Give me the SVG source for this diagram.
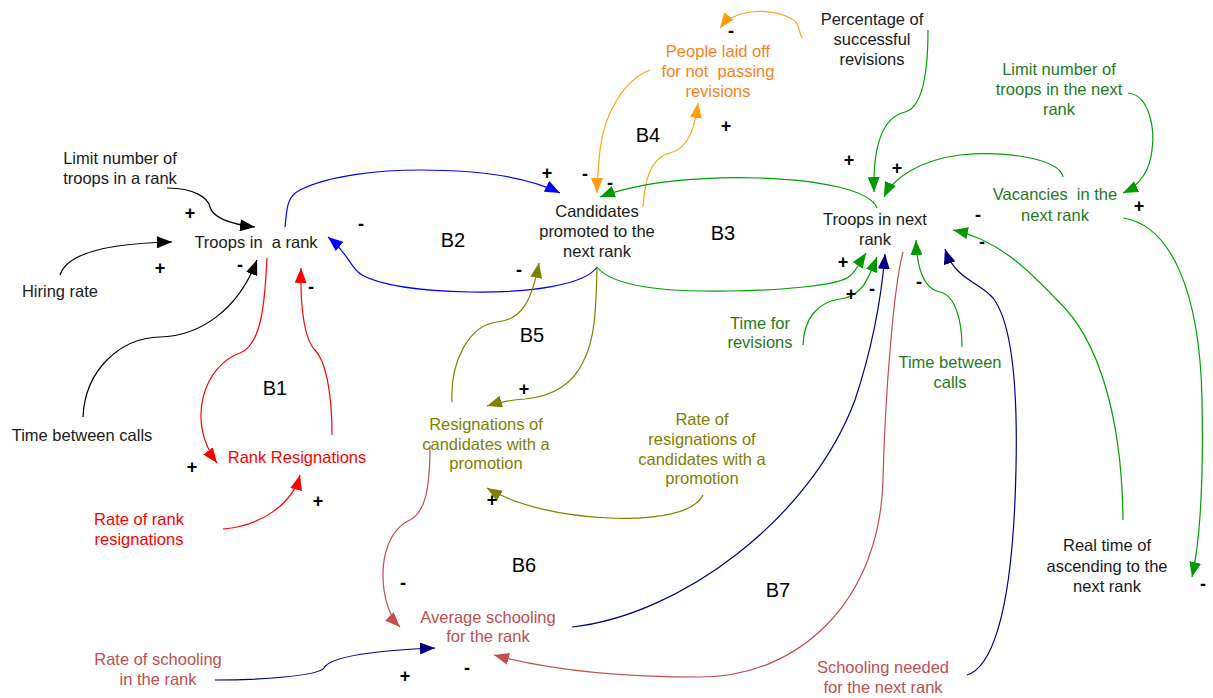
<svg xmlns="http://www.w3.org/2000/svg" width="1213" height="698" viewBox="0 0 1213 698">
<style>
text{font-family:"Liberation Sans",Arial,sans-serif;font-size:16.5px;text-anchor:middle}
.blk{fill:#1a1a1a}.red{fill:#ff0000}.org{fill:#f7821e}.grn{fill:#1f7a1f}.olv{fill:#808000}.ird{fill:#c0504d}
.loop{font-size:20px;fill:#000}
.sg{font-weight:bold;font-size:18px;fill:#000;dominant-baseline:central}
path.c{fill:none;stroke-width:1.2}
.kb{stroke:#000;marker-end:url(#ab)}.kr{stroke:#ff0000;marker-end:url(#ar)}.ku{stroke:#0000ff;marker-end:url(#au)}
.ko{stroke:#ffa31a;marker-end:url(#ao)}.kg{stroke:#00a000;marker-end:url(#ag)}.kl{stroke:#808000;marker-end:url(#al)}
.kn{stroke:#000080;marker-end:url(#an)}.ki{stroke:#c0504d;marker-end:url(#ai)}
</style>
<defs>
<marker id="ab" viewBox="0 0 15 12" refX="15" refY="6" markerWidth="15" markerHeight="12" markerUnits="userSpaceOnUse" orient="auto"><path d="M0,0L15,6L0,12z" fill="#000"/></marker>
<marker id="ar" viewBox="0 0 15 12" refX="15" refY="6" markerWidth="15" markerHeight="12" markerUnits="userSpaceOnUse" orient="auto"><path d="M0,0L15,6L0,12z" fill="#ff0000"/></marker>
<marker id="au" viewBox="0 0 15 12" refX="15" refY="6" markerWidth="15" markerHeight="12" markerUnits="userSpaceOnUse" orient="auto"><path d="M0,0L15,6L0,12z" fill="#0000ff"/></marker>
<marker id="ao" viewBox="0 0 15 12" refX="15" refY="6" markerWidth="15" markerHeight="12" markerUnits="userSpaceOnUse" orient="auto"><path d="M0,0L15,6L0,12z" fill="#ff9d0a"/></marker>
<marker id="ag" viewBox="0 0 15 12" refX="15" refY="6" markerWidth="15" markerHeight="12" markerUnits="userSpaceOnUse" orient="auto"><path d="M0,0L15,6L0,12z" fill="#009900"/></marker>
<marker id="al" viewBox="0 0 15 12" refX="15" refY="6" markerWidth="15" markerHeight="12" markerUnits="userSpaceOnUse" orient="auto"><path d="M0,0L15,6L0,12z" fill="#808000"/></marker>
<marker id="an" viewBox="0 0 15 12" refX="15" refY="6" markerWidth="15" markerHeight="12" markerUnits="userSpaceOnUse" orient="auto"><path d="M0,0L15,6L0,12z" fill="#000080"/></marker>
<marker id="ai" viewBox="0 0 15 12" refX="15" refY="6" markerWidth="15" markerHeight="12" markerUnits="userSpaceOnUse" orient="auto"><path d="M0,0L15,6L0,12z" fill="#c0504d"/></marker>
</defs>
<rect width="1213" height="698" fill="#fff"/>

<g id="connectors">
<path class="c kb" d="M167,188 C195,188 208,198 210,207 C213,218 230,224 255,227"/>
<path class="c kb" d="M60,275 C68,250 120,243 172,242"/>
<path class="c kb" d="M83,417 C85,370 120,338 160,337 C200,336 238,310 257,260"/>
<path class="c kr" d="M267,258 C265,300 262,345 240,353 C205,365 185,420 217,463"/>
<path class="c kr" d="M332,435 C332,390 325,360 315,350 C305,340 300,310 301,268"/>
<path class="c kr" d="M223,529 C260,526 292,505 300,475"/>
<path class="c ku" d="M285,227 C287,210 286,197 300,190 C330,175 380,170 420,170 C480,170 530,178 560,193"/>
<path class="c ku" d="M597,267 C585,285 530,293 470,292 C420,291 380,285 362,275 C350,268 350,255 328,237"/>
<path class="c ko" d="M643,207 C645,180 650,158 670,153 C690,148 695,125 698,103"/>
<path class="c ko" d="M650,70 C625,80 605,110 600,150 C598,170 597,180 597,193"/>
<path class="c ko" d="M802,38 C798,30 800,22 790,18 C770,8 735,8 720,28"/>
<path class="c kg" d="M877,208 C870,190 820,180 760,178 C700,176 640,182 600,197"/>
<path class="c kg" d="M597,267 C615,290 680,292 730,291 C790,290 840,285 850,276 C857,270 860,262 866,253"/>
<path class="c kg" d="M928,30 C928,80 920,108 905,112 C880,118 873,150 874,192"/>
<path class="c kg" d="M1063,177 C1060,160 1010,150 960,155 C920,160 893,178 884,197"/>
<path class="c kg" d="M1128,93 C1150,95 1155,130 1152,150 C1150,170 1140,185 1123,193"/>
<path class="c kg" d="M1123,218 C1170,225 1200,290 1202,400 C1204,500 1198,550 1192,577"/>
<path class="c kg" d="M1123,520 C1122,420 1100,340 1057,300 C1030,272 1000,240 953,230"/>
<path class="c kg" d="M803,345 C804,318 818,302 840,299 C862,296 868,280 877,257"/>
<path class="c kg" d="M962,347 C962,320 955,295 940,292 C925,289 917,270 916,240"/>
<path class="c kn" d="M572,627 C680,615 810,520 855,400 C875,340 882,290 885,254"/>
<path class="c kn" d="M967,675 C990,668 1010,620 1015,500 C1020,380 1010,320 993,298 C980,282 955,280 945,249"/>
<path class="c ki" d="M903,252 C893,290 885,400 883,480 C880,600 800,677 700,677 C620,677 550,670 494,655"/>
<path class="c ki" d="M430,445 C430,490 425,512 410,520 C388,530 380,560 384,590 C387,610 393,620 400,627"/>
<path class="c kn" d="M215,680 C260,680 318,676 324,668 C330,656 380,650 435,648"/>
<path class="c kl" d="M597,268 C596,310 595,340 583,362 C570,390 545,397 525,399 C510,400 500,402 487,406"/>
<path class="c kl" d="M452,402 C450,360 470,325 497,322 C522,320 532,300 539,263"/>
<path class="c kl" d="M703,495 C695,512 660,520 610,518 C560,516 515,505 487,488"/>
</g>

<g id="polarities">
<text class="sg" x="190" y="213">+</text>
<text class="sg" x="160" y="268">+</text>
<text class="sg" x="240" y="265">-</text>
<text class="sg" x="311" y="287">-</text>
<text class="sg" x="361" y="224">-</text>
<text class="sg" x="192" y="467">+</text>
<text class="sg" x="318" y="501">+</text>
<text class="sg" x="547" y="173">+</text>
<text class="sg" x="585" y="174">-</text>
<text class="sg" x="610" y="183">-</text>
<text class="sg" x="726" y="126">+</text>
<text class="sg" x="731" y="31">-</text>
<text class="sg" x="519" y="270">-</text>
<text class="sg" x="849" y="160">+</text>
<text class="sg" x="897" y="168">+</text>
<text class="sg" x="1139" y="206">+</text>
<text class="sg" x="978" y="215">-</text>
<text class="sg" x="982" y="242">-</text>
<text class="sg" x="843" y="262">+</text>
<text class="sg" x="851" y="294">+</text>
<text class="sg" x="872" y="289">-</text>
<text class="sg" x="919" y="282">-</text>
<text class="sg" x="1203" y="584">-</text>
<text class="sg" x="524" y="389">+</text>
<text class="sg" x="492" y="500">+</text>
<text class="sg" x="403" y="583">-</text>
<text class="sg" x="405" y="676">+</text>
<text class="sg" x="467" y="668">-</text>
</g>

<g id="loops">
<text class="loop" x="275" y="395">B1</text>
<text class="loop" x="453" y="247">B2</text>
<text class="loop" x="723" y="240">B3</text>
<text class="loop" x="648" y="142">B4</text>
<text class="loop" x="532" y="342">B5</text>
<text class="loop" x="524" y="572">B6</text>
<text class="loop" x="778" y="597">B7</text>
</g>

<g id="limit-rank"><text class="blk" x="120" y="164">Limit number of</text><text class="blk" x="120" y="184">troops in a rank</text></g>
<g id="troops-rank"><text class="blk" x="256" y="248" xml:space="preserve">Troops in  a rank</text></g>
<g id="hiring-rate"><text class="blk" x="60" y="297">Hiring rate</text></g>
<g id="time-calls"><text class="blk" x="82" y="441">Time between calls</text></g>
<g id="rank-resignations"><text class="red" x="297" y="463">Rank Resignations</text></g>
<g id="rate-rank-resignations"><text class="red" x="139" y="525">Rate of rank</text><text class="red" x="139" y="545">resignations</text></g>
<g id="candidates"><text class="blk" x="597" y="217">Candidates</text><text class="blk" x="597" y="237">promoted to the</text><text class="blk" x="597" y="257">next rank</text></g>
<g id="laid-off"><text class="org" x="718" y="57">People laid off</text><text class="org" x="718" y="77" xml:space="preserve">for not  passing</text><text class="org" x="718" y="97">revisions</text></g>
<g id="pct-revisions"><text class="blk" x="872" y="25">Percentage of</text><text class="blk" x="872" y="45">successful</text><text class="blk" x="872" y="65">revisions</text></g>
<g id="limit-next"><text class="grn" x="1059" y="75">Limit number of</text><text class="grn" x="1059" y="95">troops in the next</text><text class="grn" x="1059" y="115">rank</text></g>
<g id="troops-next"><text class="blk" x="875" y="225">Troops in next</text><text class="blk" x="875" y="245">rank</text></g>
<g id="vacancies"><text class="grn" x="1055" y="200" xml:space="preserve">Vacancies  in the</text><text class="grn" x="1055" y="221">next rank</text></g>
<g id="time-revisions"><text class="grn" x="760" y="329">Time for</text><text class="grn" x="760" y="348">revisions</text></g>
<g id="time-calls-next"><text class="grn" x="950" y="368">Time between</text><text class="grn" x="950" y="388">calls</text></g>
<g id="real-time"><text class="blk" x="1107" y="551">Real time of</text><text class="blk" x="1107" y="572">ascending to the</text><text class="blk" x="1107" y="592">next rank</text></g>
<g id="resign-candidates"><text class="olv" x="486" y="430">Resignations of</text><text class="olv" x="486" y="450">candidates with a</text><text class="olv" x="486" y="469">promotion</text></g>
<g id="rate-resign-candidates"><text class="olv" x="702" y="425">Rate of</text><text class="olv" x="702" y="445">resignations of</text><text class="olv" x="702" y="465">candidates with a</text><text class="olv" x="702" y="484">promotion</text></g>
<g id="avg-schooling"><text class="ird" x="488" y="623">Average schooling</text><text class="ird" x="488" y="642">for the rank</text></g>
<g id="rate-schooling"><text class="ird" x="158" y="665">Rate of schooling</text><text class="ird" x="158" y="685">in the rank</text></g>
<g id="schooling-needed"><text class="ird" x="883" y="673">Schooling needed</text><text class="ird" x="883" y="693">for the next rank</text></g>
</svg>
